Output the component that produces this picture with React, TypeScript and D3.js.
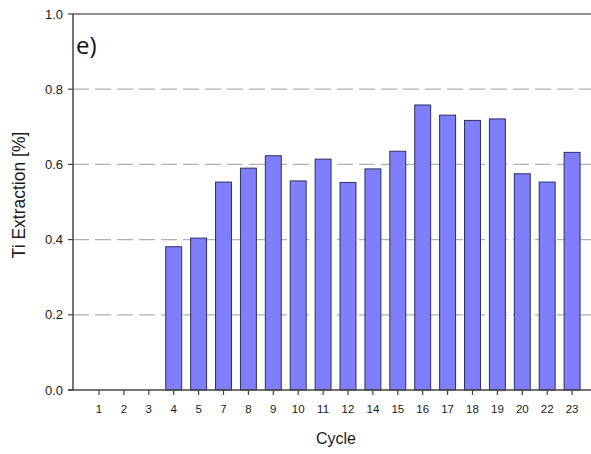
import React from "react";
import * as d3 from "d3";

const cycles = ["1","2","3","4","5","7","8","9","10","11","12","14","15","16","17","18","19","20","22","23"];
const extraction = [0,0,0,0.381,0.404,0.553,0.590,0.623,0.556,0.614,0.552,0.588,0.635,0.758,0.731,0.717,0.721,0.575,0.553,0.632];
const yTicks = [0, 0.2, 0.4, 0.6, 0.8, 1.0];
const gridTicks = [0.2, 0.4, 0.6, 0.8];

export default function App() {
  const W = 591, H = 454;
  const left = 73, top = 14, bottom = 390;
  const x = d3.scaleBand<string>().domain(cycles).range([78.6, 592.5]).paddingOuter(0.5).paddingInner(0.36);
  const y = d3.scaleLinear().domain([0, 1]).range([bottom, top]);
  return (
    <svg width={W} height={H} style={{ position: "absolute", left: 0, top: 0, background: "#fff" }}
      fontFamily="Liberation Sans, Arial, sans-serif">
      <rect width={W} height={H} fill="#fff" />
      {gridTicks.map(t => (
        <line key={t} x1={left} x2={W} y1={y(t)} y2={y(t)} stroke="#b0b0b0" strokeWidth={1.2} strokeDasharray="16,6" />
      ))}
      {cycles.map((c, i) => extraction[i] > 0 && (
        <rect key={c} x={x(c)!} y={y(extraction[i])} width={x.bandwidth()} height={bottom - y(extraction[i])}
          fill="#7f7ffe" stroke="#2e2e5e" strokeWidth={1} />
      ))}
      <line x1={left} x2={W} y1={top} y2={top} stroke="#222" strokeWidth={1.2} />
      <line x1={left} x2={left} y1={top} y2={bottom} stroke="#444" strokeWidth={1.5} />
      <line x1={left - 5} x2={W} y1={bottom} y2={bottom} stroke="#444" strokeWidth={1.5} />
      {yTicks.map(t => (
        <g key={t}>
          <line x1={left - 5} x2={left} y1={y(t)} y2={y(t)} stroke="#444" strokeWidth={1.2} />
          <text x={63} y={y(t)} dy="0.35em" textAnchor="end" fontSize={13} fill="#1a1a1a">{t.toFixed(1)}</text>
        </g>
      ))}
      {cycles.map(c => {
        const cx = x(c)! + x.bandwidth() / 2;
        return (
          <g key={c}>
            <line x1={cx} x2={cx} y1={bottom} y2={bottom + 5} stroke="#444" strokeWidth={1.2} />
            <text x={cx} y={413} textAnchor="middle" fontSize={11.5} fill="#1a1a1a">{c}</text>
          </g>
        );
      })}
      <text x={336} y={444} textAnchor="middle" fontSize={16} fill="#1a1a1a">Cycle</text>
      <text transform={`translate(25,195) rotate(-90)`} textAnchor="middle" fontSize={17.5} fill="#1a1a1a">Ti Extraction [%]</text>
      <text x={76} y={54} fontSize={24} fill="#111" fontFamily="Open Sans, Noto Sans, sans-serif">e)</text>
    </svg>
  );
}
